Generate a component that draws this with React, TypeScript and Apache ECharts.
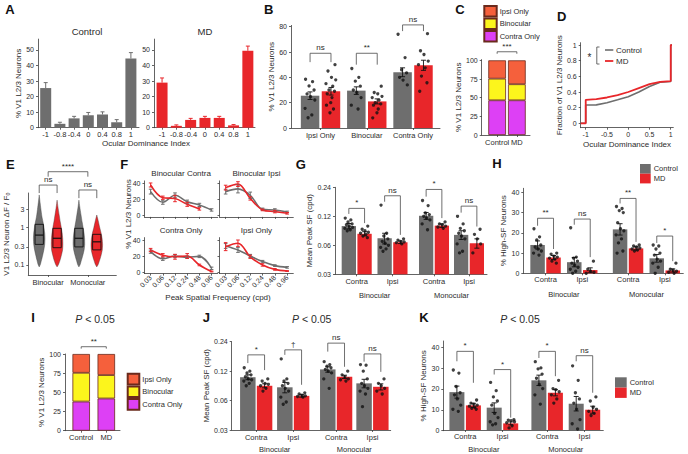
import React, { useEffect, useRef } from 'react';
import * as echarts from 'echarts';

const FONT = '"Liberation Sans", Arial, Helvetica, sans-serif';
const GRAY = '#6e6e6e';
const RED = '#e8262a';
const INK = '#2b2b2b';
const AXC = '#3c3c3c';
const IPSI_COL = '#f5603c';
const BIN_COL = '#fcf51c';
const CONTRA_COL = '#dd40f5';
const EDGE = '#6a2a1c';

// ---------------- DATA ----------------
// Panel A
const odCats = ['-1', '-0.8', '-0.4', '0', '0.4', '0.8', '1'];
const aTicks = [0, 10, 20, 30, 40, 50];
const aControlMean = [25.5, 2.5, 6, 8, 8.5, 3.5, 44.5];
const aControlSem = [3.5, 1, 1.3, 1.8, 1.7, 1.7, 3.8];
const aMdMean = [29, 1.2, 5, 6.3, 6.3, 1.5, 49.5];
const aMdSem = [3, 0.6, 1, 1, 1, 0.5, 3];

// Panel B
const bCats = ['Ipsi Only', 'Binocular', 'Contra Only'];
const bTicks = [0, 20, 40, 60, 80];
const bControlMean = [25.5, 29.5, 44];
const bControlSem = [3, 3, 3.5];
const bMdMean = [29, 21, 49.5];
const bMdSem = [3, 2, 4];
const bControlDots = [
  [38.5, 36.6, 33.2, 30, 26.9, 24.7, 22.1, 15.5, 10.3, 8.1],
  [47, 40, 37, 33, 30, 28, 24, 18, 15],
  [74, 55.6, 46, 43.5, 40, 37.8, 34],
];
const bMdDots = [
  [50, 45, 40, 38, 35, 33, 30, 29, 27, 24, 20, 18, 15, 12],
  [33, 28, 27, 25, 24, 22, 20, 19, 18, 15, 12, 8],
  [74.5, 61, 58, 52.8, 50, 47.5, 41, 35.7, 29],
];
const bBrackets = [[59, 52, 52], [59, 50, 50], [81.4, 76.5, 76.5]];
const bLabels = ['ns', '**', 'ns'];

// Panels C and I
const compCats = ['Control', 'MD'];
const pctTicks = [0, 25, 50, 75, 100];
const cContra = [46.5, 46.5];
const cBin = [29, 21.5];
const cIpsi = [24.5, 32];
const cBracket = [111.5, 108.8, 108.8];
const iContra = [38, 42];
const iBin = [37.5, 30.5];
const iIpsi = [24.5, 27.5];
const iBracket = [109.5, 107, 107];

// Panel D (cumulative distributions)
const dXTicks = [-1, -0.5, 0, 0.5, 1];
const dYTicks = [0, 0.2, 0.4, 0.6, 0.8, 1];
const dControl = [[-1.118, 0], [-1, 0], [-1, 0.234], [-0.75, 0.236], [-0.5, 0.263], [-0.25, 0.3], [0, 0.34], [0.25, 0.4], [0.5, 0.47], [0.75, 0.525], [1, 0.535], [1, 1], [1.03, 1]];
const dMd = [[-1.118, 0], [-1, 0], [-1, 0.3], [-0.75, 0.31], [-0.5, 0.33], [-0.25, 0.36], [0, 0.4], [0.25, 0.45], [0.5, 0.5], [0.75, 0.53], [1, 0.54], [1, 1], [1.03, 1]];

// Panel E (violins, dF/F0): [value, relative density]
const eCats = ['Binocular', 'Monocular'];
const eTicks = [0.1, 0.3, 1, 3];
const eBinCtrlProf = [[7.3, 0], [5, 0.12], [3, 0.3], [2, 0.45], [1.4, 0.65], [1, 0.82], [0.7, 0.95], [0.5, 1], [0.35, 0.95], [0.25, 0.8], [0.18, 0.6], [0.13, 0.38], [0.1, 0.18], [0.088, 0]];
const eBinMdProf = [[5.3, 0], [3.5, 0.15], [2.2, 0.35], [1.4, 0.55], [1, 0.72], [0.7, 0.88], [0.5, 0.97], [0.35, 1], [0.25, 0.95], [0.18, 0.75], [0.13, 0.5], [0.1, 0.22], [0.088, 0]];
const eMonoCtrlProf = [[5.3, 0], [3.5, 0.15], [2.2, 0.35], [1.4, 0.55], [1, 0.72], [0.7, 0.88], [0.5, 0.98], [0.35, 1], [0.25, 0.9], [0.18, 0.68], [0.13, 0.42], [0.1, 0.2], [0.088, 0]];
const eMonoMdProf = [[2.13, 0], [1.5, 0.25], [1, 0.5], [0.7, 0.75], [0.5, 0.92], [0.35, 1], [0.25, 0.95], [0.18, 0.75], [0.13, 0.48], [0.1, 0.22], [0.088, 0]];
const eBoxes = [[0.35, 0.62, 1.2], [0.286, 0.51, 0.94], [0.3, 0.51, 0.94], [0.25, 0.41, 0.65]];
const eBrackets = [[13.4, 8.2, 8.2], [9.9, 6.0, 6.0], [30.4, 22.4, 22.4]];
const eLabels = ['ns', 'ns', '****'];

// Panel F (tuning curves)
const fCats = ['0.03', '0.06', '0.12', '0.24', '0.48', '0.96'];
const fTicks = [0, 20, 40];
const fBinContraCtrl = [29.6, 16.3, 25, 17, 13, 6.7];
const fBinContraCtrlSem = [3, 2.5, 3, 2, 2, 1.5];
const fBinContraMd = [37.9, 22, 21, 13.7, 8, null];
const fBinContraMdSem = [2.5, 2, 4, 2.5, 1.5, null];
const fBinIpsiCtrl = [29.6, 33, 25, 7.5, 6.7, 4.2];
const fBinIpsiCtrlSem = [3, 5, 4, 1.5, 1.5, 1];
const fBinIpsiMd = [34.6, 39, 21, 6.7, 4.6, 2.5];
const fBinIpsiMdSem = [3, 3, 2, 1, 1.5, 1];
const fContraCtrl = [25.4, 16.5, 20, 18.5, 19.5, 4.6];
const fContraCtrlSem = [2, 2, 2, 1.5, 1.5, 1.5];
const fContraMd = [27.5, 21, 19, 20, 8.8, 0.6];
const fContraMdSem = [2, 2, 3, 3, 1, 0.5];
const fIpsiCtrl = [32.5, 27.5, 20, 13, 8, 5.8];
const fIpsiCtrlSem = [3, 3, 2, 1.5, 1, 1];
const fIpsiMd = [31.7, 36, 19, 8.8, 3.3, 1.2];
const fIpsiMdSem = [5, 4, 2, 1.5, 1, 0.5];

// Panels G, H, J, K: order = [Binocular Contra, Binocular Ipsi, Monocular Contra, Monocular Ipsi]
const sfGroups = ['Binocular', 'Monocular'];
const sfCats = ['Contra', 'Ipsi'];
const sfTicks = [0.03, 0.06, 0.12, 0.24];
const hsfTicks = [0, 10, 20, 30, 40];

const gCtrlMean = [0.095, 0.071, 0.1215, 0.077];
const gCtrlSem = [0.006, 0.009, 0.01, 0.008];
const gMdMean = [0.079, 0.0645, 0.096, 0.063];
const gMdSem = [0.004, 0.002, 0.004, 0.007];
const gCtrlDots = [
  [0.115, 0.11, 0.105, 0.1, 0.098, 0.095, 0.092, 0.09, 0.087, 0.085],
  [0.157, 0.08, 0.075, 0.07, 0.066, 0.063, 0.06, 0.057, 0.055, 0.052],
  [0.175, 0.155, 0.13, 0.125, 0.12, 0.115, 0.11, 0.1, 0.087],
  [0.12, 0.1, 0.09, 0.085, 0.08, 0.075, 0.07, 0.062, 0.052, 0.05],
];
const gMdDots = [
  [0.095, 0.088, 0.085, 0.082, 0.08, 0.078, 0.075, 0.072],
  [0.07, 0.068, 0.066, 0.065, 0.064, 0.062],
  [0.105, 0.1, 0.098, 0.095, 0.093, 0.09],
  [0.088, 0.078, 0.07, 0.062, 0.05],
];
const gBrackets = [[0.145, 0.127, 0.102], [0.196, 0.17, 0.077], [0.228, 0.192, 0.115], [0.153, 0.131, 0.094]];
const gLabels = ['*', 'ns', '*', 'ns'];

const hCtrlMean = [14, 5.5, 21.7, 7.4];
const hCtrlSem = [2, 2.3, 2.8, 1.9];
const hMdMean = [7.8, 1.6, 12.3, 1.4];
const hMdSem = [1, 1.1, 0.8, 0.8];
const hCtrlDots = [
  [22, 18, 16.5, 14, 13, 12, 11, 10, 9],
  [22.5, 8, 7.5, 6, 5, 4, 3, 2, 1, 0],
  [33, 32, 31, 30, 25, 22, 21, 19, 17, 15, 11, 10],
  [14, 13.5, 12, 10, 9, 7, 6, 5, 3, 0],
];
const hMdDots = [
  [10, 9.5, 8.5, 8, 7.5, 7, 6, 5],
  [6, 2, 1, 0.5, 0],
  [14, 13.5, 13, 12.5, 12, 11.5, 11],
  [5, 2, 1.5, 1, 0.5, 0],
];
const hBrackets = [[27.2, 23.5, 12], [26.8, 24, 8], [37, 34.5, 15.5], [18.4, 15, 6]];
const hLabels = ['**', 'ns', '**', '*'];

const jCtrlMean = [0.104, 0.082, 0.125, 0.09];
const jCtrlSem = [0.006, 0.01, 0.008, 0.009];
const jMdMean = [0.085, 0.067, 0.105, 0.083];
const jMdSem = [0.004, 0.002, 0.004, 0.006];
const jCtrlDots = [
  [0.13, 0.12, 0.115, 0.11, 0.105, 0.1, 0.098, 0.095, 0.09, 0.085],
  [0.16, 0.1, 0.095, 0.09, 0.085, 0.08, 0.075, 0.065, 0.058, 0.055],
  [0.15, 0.14, 0.135, 0.13, 0.125, 0.12, 0.115, 0.1, 0.08],
  [0.14, 0.138, 0.12, 0.1, 0.09, 0.085, 0.08, 0.075, 0.07, 0.052],
];
const jMdDots = [
  [0.1, 0.095, 0.09, 0.088, 0.085, 0.08, 0.075],
  [0.072, 0.07, 0.068, 0.067, 0.066, 0.065],
  [0.12, 0.11, 0.105, 0.1, 0.098, 0.095],
  [0.1, 0.09, 0.085, 0.08, 0.075, 0.07],
];
const jBrackets = [[0.176, 0.145, 0.123], [0.198, 0.176, 0.087], [0.232, 0.19, 0.133], [0.18, 0.15, 0.118]];
const jLabels = ['*', '†', 'ns', 'ns'];

const kCtrlMean = [18.3, 10.8, 24, 12.7];
const kCtrlSem = [2.9, 2.3, 2.5, 3.5];
const kMdMean = [11.9, 3.2, 18, 9.8];
const kMdSem = [1, 0.7, 1.5, 1.7];
const kCtrlDots = [
  [29, 27.5, 21, 18, 17, 15, 12, 10, 9],
  [23, 19, 16, 14, 12, 8, 6, 4, 3, 2.5],
  [33, 30, 29.5, 27, 25, 22, 20, 17, 12.5],
  [31, 24, 18, 15, 13, 10, 5, 3, 0.5],
];
const kMdDots = [
  [14.5, 13, 12.5, 12, 11.5, 11, 10.5, 10],
  [5, 4.8, 4.5, 4, 3.5, 2, 1],
  [24, 20, 19.5, 18.5, 17, 15, 13],
  [16, 14, 11, 10, 9, 8, 7],
];
const kBrackets = [[38, 33.2, 22.8], [29.2, 26.8, 6], [38, 34.8, 26], [35.9, 33.2, 18]];
const kLabels = ['*', '*', '*', 'ns'];

// horizontal jitter pattern for dots (layout only, fraction of jitter width)
const JIT = [-0.9, 0.5, -0.2, 0.8, -0.6, 0.1, 0.95, -1, 0.35, -0.4, 0.7, -0.75, 0.2, -0.05];

// ---------------- HELPERS ----------------
const LINE = { color: AXC, width: 0.8 };
const lin = (v: number) => v;
const log2t = (v: number) => Math.log2(v / 0.03);
const fmtSF = (v: number) => (0.03 * Math.pow(2, v)).toFixed(2);

function yVis(gridIndex: number, min: number, max: number, ticks: number[], fmt: any, name: string, nameGap: number, showLabels = true) {
  return {
    type: 'value', gridIndex, min, max,
    splitLine: { show: false },
    axisLine: { show: true, onZero: false, lineStyle: LINE },
    axisTick: { show: true, length: 2, customValues: ticks, lineStyle: LINE },
    axisLabel: { show: showLabels, customValues: ticks, formatter: fmt, fontSize: 7, color: INK, margin: 4, fontFamily: FONT },
    name, nameLocation: 'middle', nameGap,
    nameTextStyle: { fontSize: 8, color: INK, fontFamily: FONT },
  };
}
function yHid(gridIndex: number, min: number, max: number) {
  return { type: 'value', gridIndex, min, max, show: false, splitLine: { show: false } };
}
function xLineOnly(gridIndex: number) {
  return {
    type: 'value', gridIndex, min: 0, max: 1,
    axisLine: { show: true, onZero: false, lineStyle: LINE },
    axisTick: { show: false }, axisLabel: { show: false }, splitLine: { show: false },
  };
}
function xValHid(gridIndex: number, max: number) {
  return { type: 'value', gridIndex, min: 0, max, show: false, splitLine: { show: false } };
}
function xCat(gridIndex: number, cats: string[], margin: number, name?: string, nameGap?: number, showLine = false) {
  return {
    type: 'category', gridIndex, data: cats, boundaryGap: true,
    axisLine: { show: showLine, onZero: false, lineStyle: LINE },
    axisTick: { show: true, alignWithLabel: true, length: 2, lineStyle: LINE },
    axisLabel: { interval: 0, fontSize: 7.5, color: INK, margin, fontFamily: FONT },
    splitLine: { show: false },
    name: name || '', nameLocation: 'middle', nameGap: nameGap || 15,
    nameTextStyle: { fontSize: 7.5, color: INK, fontFamily: FONT },
  };
}
function errSeries(xi: number, yi: number, data: number[][], color: string, both = true, cap = 2.5, lw = 0.9) {
  return {
    type: 'custom', xAxisIndex: xi, yAxisIndex: yi, data, clip: false, silent: true, z: 5,
    encode: { x: 0, y: [1, 2] },
    renderItem: (params: any, api: any) => {
      const x = api.value(0), lo = api.value(1), hi = api.value(2);
      const a = api.coord([x, lo]);
      const b = api.coord([x, hi]);
      const st = { stroke: color, lineWidth: lw };
      const ch: any[] = [
        { type: 'line', shape: { x1: a[0], y1: a[1], x2: b[0], y2: b[1] }, style: st },
        { type: 'line', shape: { x1: b[0] - cap, y1: b[1], x2: b[0] + cap, y2: b[1] }, style: st },
      ];
      if (both) ch.push({ type: 'line', shape: { x1: a[0] - cap, y1: a[1], x2: a[0] + cap, y2: a[1] }, style: st });
      return { type: 'group', children: ch };
    },
  };
}
function dotSeries(xi: number, yi: number, data: number[][]) {
  return { type: 'scatter', xAxisIndex: xi, yAxisIndex: yi, data, symbolSize: 3.3, itemStyle: { color: '#111' }, silent: true, z: 4, clip: false };
}
function bracketSeries(xi: number, yi: number, data: number[][], labels: string[], fs = 8) {
  return {
    type: 'custom', xAxisIndex: xi, yAxisIndex: yi, data, clip: false, silent: true, z: 6,
    encode: { x: [0, 1], y: [2, 3, 4] },
    renderItem: (params: any, api: any) => {
      const x1 = api.value(0), x2 = api.value(1), yt = api.value(2), yl = api.value(3), yr = api.value(4);
      const p1 = api.coord([x1, yl]), p2 = api.coord([x1, yt]), p3 = api.coord([x2, yt]), p4 = api.coord([x2, yr]);
      return {
        type: 'group', children: [
          { type: 'polyline', shape: { points: [p1, p2, p3, p4] }, style: { stroke: '#4a4a4a', lineWidth: 0.8, fill: null } },
          { type: 'text', x: (p2[0] + p3[0]) / 2, y: p2[1] - 1.5, style: { text: labels[params.dataIndex], fontSize: fs, fontFamily: FONT, fill: INK, align: 'center', verticalAlign: 'bottom' } },
        ],
      };
    },
  };
}

function buildOption() {
  const grid: any[] = [], xAxis: any[] = [], yAxis: any[] = [], series: any[] = [], els: any[] = [], legend: any[] = [];
  const addGrid = (left: number, top: number, width: number, height: number) => grid.push({ left, top, width, height, containLabel: false }) - 1;
  const addX = (a: any) => xAxis.push(a) - 1;
  const addY = (a: any) => yAxis.push(a) - 1;
  const txt = (x: number, y: number, t: string, size: number, extra: any = {}, rot = 0) =>
    els.push({ type: 'text', x, y, rotation: rot, silent: true, style: { text: t, fontSize: size, fontFamily: FONT, fill: INK, align: 'center', verticalAlign: 'middle', ...extra } });

  // ---------- Panel A ----------
  const aPanels = [
    { axisX: 38, barLeft: 38.6, barWidth: 99.4, mean: aControlMean, sem: aControlSem, color: GRAY, name: 'Control', yName: '% V1 L2/3 Neurons' },
    { axisX: 154, barLeft: 154.9, barWidth: 100.1, mean: aMdMean, sem: aMdSem, color: RED, name: 'MD', yName: '' },
  ];
  aPanels.forEach((p) => {
    const top = 39.1, h = 88.6;
    const base = addGrid(p.axisX, top, 101, h);
    addX(xLineOnly(base));
    addY(yVis(base, 0, 57, aTicks, (v: number) => String(v), p.yName, 14.5));
    const g = addGrid(p.barLeft, top, p.barWidth, h);
    const xc = addX(xCat(g, odCats, 3));
    const xv = addX(xValHid(g, odCats.length));
    const y = addY(yHid(g, 0, 57));
    series.push({ type: 'bar', name: p.name, xAxisIndex: xc, yAxisIndex: y, data: p.mean, barWidth: 11, itemStyle: { color: p.color } });
    series.push(errSeries(xv, y, p.mean.map((m, i) => [i + 0.5, m, m + p.sem[i]]), p.color, false, 2, 1));
  });
  txt(87, 31, 'Control', 9.5);
  txt(205, 31, 'MD', 9.5);
  txt(146, 143, 'Ocular Dominance Index', 8);

  // ---------- grouped bar panels ----------
  const groupedPanel = (p: any) => {
    const h = p.bottom - p.top;
    const base = addGrid(p.axisX, p.top, p.right - p.axisX, h);
    addX(xLineOnly(base));
    addY(yVis(base, p.ymin, p.ymax, p.ticks, p.fmt, p.yName, p.yNameGap));
    const n = p.cats.length;
    p.groups.forEach((g: any, gi: number) => {
      const gr = addGrid(g.left, p.top, g.width, h);
      const xc = addX(xCat(gr, p.cats, p.labelMargin, g.name, p.groupGap));
      const xv = addX(xValHid(gr, n));
      const y = addY(yHid(gr, p.ymin, p.ymax));
      const catW = g.width / n;
      const off = (p.barW * (1 + p.gapPct / 100)) / 2 / catW;
      const amp = p.jitPx / catW;
      const ks = p.cats.map((_: any, c: number) => gi * n + c);
      series.push({ type: 'bar', name: 'Control', xAxisIndex: xc, yAxisIndex: y, barWidth: p.barW, barGap: p.gapPct + '%', data: ks.map((k: number) => p.tf(p.ctrlMean[k])), itemStyle: { color: GRAY } });
      series.push({ type: 'bar', name: 'MD', xAxisIndex: xc, yAxisIndex: y, barWidth: p.barW, barGap: p.gapPct + '%', data: ks.map((k: number) => p.tf(p.mdMean[k])), itemStyle: { color: RED } });
      const dots: number[][] = [];
      ks.forEach((k: number, c: number) => {
        p.ctrlDots[k].forEach((v: number, i: number) => dots.push([c + 0.5 - off + JIT[i % JIT.length] * amp, p.tf(v)]));
        p.mdDots[k].forEach((v: number, i: number) => dots.push([c + 0.5 + off + JIT[(i + 3) % JIT.length] * amp, p.tf(v)]));
      });
      series.push(dotSeries(xv, y, dots));
      const err: number[][] = [];
      ks.forEach((k: number, c: number) => {
        err.push([c + 0.5 - off, p.tf(p.ctrlMean[k] - p.ctrlSem[k]), p.tf(p.ctrlMean[k] + p.ctrlSem[k])]);
        err.push([c + 0.5 + off, p.tf(p.mdMean[k] - p.mdSem[k]), p.tf(p.mdMean[k] + p.mdSem[k])]);
      });
      series.push(errSeries(xv, y, err, '#111', true, 2.5, 0.9));
      const br = ks.map((k: number, c: number) => [c + 0.5 - off, c + 0.5 + off, p.tf(p.brackets[k][0]), p.tf(p.brackets[k][1]), p.tf(p.brackets[k][2])]);
      series.push(bracketSeries(xv, y, br, ks.map((k: number) => p.labels[k])));
    });
  };

  // Panel B
  groupedPanel({
    axisX: 291, right: 440, top: 25.4, bottom: 128, ymin: 0, ymax: 81, ticks: bTicks, fmt: (v: number) => String(v),
    yName: '% V1 L2/3 Neurons', yNameGap: 9, groups: [{ left: 297.4, width: 138.75, name: '' }], cats: bCats,
    labelMargin: 3.5, groupGap: 15, ctrlMean: bControlMean, ctrlSem: bControlSem, mdMean: bMdMean, mdSem: bMdSem,
    ctrlDots: bControlDots, mdDots: bMdDots, brackets: bBrackets, labels: bLabels, tf: lin, barW: 18.5, gapPct: 13, jitPx: 5,
  });
  // Panel G
  groupedPanel({
    axisX: 335, right: 487, top: 187.3, bottom: 274.3, ymin: 0, ymax: 3, ticks: sfTicks.map(log2t), fmt: fmtSF,
    yName: 'Mean Peak SF (cpd)', yNameGap: 19.5, groups: [{ left: 338.8, width: 71.6, name: sfGroups[0] }, { left: 416.5, width: 70, name: sfGroups[1] }],
    cats: sfCats, labelMargin: 3, groupGap: 17, ctrlMean: gCtrlMean, ctrlSem: gCtrlSem, mdMean: gMdMean, mdSem: gMdSem,
    ctrlDots: gCtrlDots, mdDots: gMdDots, brackets: gBrackets, labels: gLabels, tf: log2t, barW: 14.3, gapPct: 10, jitPx: 4,
  });
  // Panel H
  groupedPanel({
    axisX: 523.3, right: 683.3, top: 188.3, bottom: 273.3, ymin: 0, ymax: 42, ticks: hsfTicks, fmt: (v: number) => String(v),
    yName: '% High-SF Neurons', yNameGap: 13.5, groups: [{ left: 527.2, width: 73.4, name: sfGroups[0] }, { left: 609.7, width: 73.4, name: sfGroups[1] }],
    cats: sfCats, labelMargin: 2, groupGap: 17, ctrlMean: hCtrlMean, ctrlSem: hCtrlSem, mdMean: hMdMean, mdSem: hMdSem,
    ctrlDots: hCtrlDots, mdDots: hMdDots, brackets: hBrackets, labels: hLabels, tf: lin, barW: 14.5, gapPct: 10, jitPx: 4,
  });
  // Panel J
  groupedPanel({
    axisX: 231.7, right: 390.7, top: 341.7, bottom: 430, ymin: 0, ymax: 3, ticks: sfTicks.map(log2t), fmt: fmtSF,
    yName: 'Mean Peak SF (cpd)', yNameGap: 15.5, groups: [{ left: 237.7, width: 74, name: sfGroups[0] }, { left: 318, width: 72.6, name: sfGroups[1] }],
    cats: sfCats, labelMargin: 3, groupGap: 15, ctrlMean: jCtrlMean, ctrlSem: jCtrlSem, mdMean: jMdMean, mdSem: jMdSem,
    ctrlDots: jCtrlDots, mdDots: jMdDots, brackets: jBrackets, labels: jLabels, tf: log2t, barW: 15.5, gapPct: 8, jitPx: 4,
  });
  // Panel K
  groupedPanel({
    axisX: 443.3, right: 603.3, top: 341, bottom: 430.7, ymin: 0, ymax: 43, ticks: hsfTicks, fmt: (v: number) => String(v),
    yName: '% High-SF Neurons', yNameGap: 11.5, groups: [{ left: 446.5, width: 74.6, name: sfGroups[0] }, { left: 528.5, width: 74.6, name: sfGroups[1] }],
    cats: sfCats, labelMargin: 2.5, groupGap: 15, ctrlMean: kCtrlMean, ctrlSem: kCtrlSem, mdMean: kMdMean, mdSem: kMdSem,
    ctrlDots: kCtrlDots, mdDots: kMdDots, brackets: kBrackets, labels: kLabels, tf: lin, barW: 15, gapPct: 10, jitPx: 4,
  });

  // ---------- stacked panels C and I ----------
  const stackPanel = (p: any) => {
    const h = p.bottom - p.top;
    const base = addGrid(p.axisX, p.top, p.right - p.axisX, h);
    addX(xLineOnly(base));
    addY(yVis(base, 0, p.ymax, pctTicks, (v: number) => String(v), '% V1 L2/3 Neurons', p.yNameGap));
    const g = addGrid(p.barLeft, p.top, p.barGridW, h);
    const xc = addX(xCat(g, compCats, p.labelMargin));
    const xv = addX(xValHid(g, 2));
    const y = addY(yHid(g, 0, p.ymax));
    const mk = (name: string, data: number[], color: string) => ({
      type: 'bar', name, stack: p.stack, xAxisIndex: xc, yAxisIndex: y, data, barWidth: p.barW,
      itemStyle: { color, borderColor: EDGE, borderWidth: 0.8 },
    });
    series.push(mk('Contra Only', p.contra, CONTRA_COL));
    series.push(mk('Binocular', p.bin, BIN_COL));
    series.push(mk('Ipsi Only', p.ipsi, IPSI_COL));
    series.push(bracketSeries(xv, y, [[0.5, 1.5, p.bracket[0], p.bracket[1], p.bracket[2]]], [p.label]));
  };
  stackPanel({ axisX: 481.7, right: 530, top: 59.6, bottom: 135, ymax: 101, yNameGap: 15, barLeft: 487.3, barGridW: 39.4, barW: 17.7, labelMargin: 3.5, stack: 'C', contra: cContra, bin: cBin, ipsi: cIpsi, bracket: cBracket, label: '***' });
  stackPanel({ axisX: 65, right: 120, top: 354, bottom: 430.7, ymax: 100, yNameGap: 16.8, barLeft: 68.65, barGridW: 50.2, barW: 17.5, labelMargin: 2.5, stack: 'I', contra: iContra, bin: iBin, ipsi: iIpsi, bracket: iBracket, label: '**' });

  legend.push({
    orient: 'vertical', left: 483.3, top: 5, itemWidth: 12.4, itemHeight: 10.5, itemGap: 0, padding: 0, selectedMode: false,
    icon: 'rect', data: ['Ipsi Only', 'Binocular', 'Contra Only'], textStyle: { fontSize: 7.5, color: INK, fontFamily: FONT, padding: [0, 0, 0, -2] },
  });
  legend.push({
    orient: 'vertical', left: 126.7, top: 372.7, itemWidth: 11.6, itemHeight: 10.7, itemGap: 0, padding: 0, selectedMode: false,
    icon: 'rect', data: ['Ipsi Only', 'Binocular', 'Contra Only'], textStyle: { fontSize: 7.5, color: INK, fontFamily: FONT, padding: [0, 0, 0, -2] },
  });
  legend.push({
    orient: 'vertical', left: 640, top: 164, itemWidth: 10.7, itemHeight: 9.7, itemGap: 0, padding: 0, selectedMode: false,
    icon: 'rect', data: ['Control', 'MD'], textStyle: { fontSize: 7.5, color: INK, fontFamily: FONT, padding: [0, 0, 0, -2] },
  });
  legend.push({
    orient: 'vertical', left: 615, top: 377.3, itemWidth: 11.7, itemHeight: 10.3, itemGap: 0, padding: 0, selectedMode: false,
    icon: 'rect', data: ['Control', 'MD'], textStyle: { fontSize: 7.5, color: INK, fontFamily: FONT, padding: [0, 0, 0, -2] },
  });

  // ---------- Panel D ----------
  {
    const dG = addGrid(580.7, 42.7, 92.6, 85);
    const xi = addX({
      type: 'value', gridIndex: dG, min: -1.118, max: 1.06, splitLine: { show: false },
      axisLine: { show: true, onZero: false, lineStyle: LINE },
      axisTick: { show: true, length: 2, customValues: dXTicks, lineStyle: LINE },
      axisLabel: { customValues: dXTicks, formatter: (v: number) => String(v), fontSize: 7, color: INK, margin: 3, fontFamily: FONT },
      name: 'Ocular Dominance Index', nameLocation: 'middle', nameGap: 12.6, nameTextStyle: { fontSize: 8, color: INK, fontFamily: FONT },
    });
    const yi = addY(yVis(dG, -0.056, 1.03, dYTicks, (v: number) => String(Math.round(v * 10) / 10), 'Fraction of V1 L2/3 Neurons', 13.7));
    series.push({ type: 'line', name: 'Control', xAxisIndex: xi, yAxisIndex: yi, data: dControl, symbol: 'none', lineStyle: { color: GRAY, width: 1.6 }, itemStyle: { color: GRAY }, z: 3 });
    series.push({ type: 'line', name: 'MD', xAxisIndex: xi, yAxisIndex: yi, data: dMd, symbol: 'none', lineStyle: { color: RED, width: 1.8 }, itemStyle: { color: RED }, z: 4 });
    els.push({ type: 'line', silent: true, shape: { x1: 605, y1: 50, x2: 613.3, y2: 50 }, style: { stroke: GRAY, lineWidth: 1.6 } });
    els.push({ type: 'line', silent: true, shape: { x1: 605, y1: 61, x2: 613.3, y2: 61 }, style: { stroke: RED, lineWidth: 1.8 } });
    txt(616, 50, 'Control', 8, { align: 'left' });
    txt(616, 61, 'MD', 8, { align: 'left' });
    els.push({ type: 'polyline', silent: true, shape: { points: [[599.5, 47], [596.8, 47], [596.8, 64], [599.5, 64]] }, style: { stroke: '#444', lineWidth: 0.8, fill: null } });
    txt(589.5, 57, '*', 10);
  }

  // ---------- Panel E ----------
  {
    const top = 193, h = 82;
    const base = addGrid(28.3, top, 88, h);
    addX(xLineOnly(base));
    const yi = addY(yVis(base, -1.272, 0.915, eTicks.map(Math.log10), (v: number) => {
      const x = Math.pow(10, v);
      return x >= 1 ? String(Math.round(x)) : String(Math.round(x * 10) / 10);
    }, 'V1 L2/3 Neuron ΔF / F₀', 16.5));
    const eG = addGrid(28.3, top, 79.4, h);
    addX(xCat(eG, eCats, 3));
    const xv = addX(xValHid(eG, 2));
    const yv = addY(yHid(eG, -1.272, 0.915));
    const VW = 0.146, BW = 0.105, OFF = 0.225;
    const violins = [
      { cat: 0, side: -1, prof: eBinCtrlProf, color: GRAY },
      { cat: 0, side: 1, prof: eBinMdProf, color: RED },
      { cat: 1, side: -1, prof: eMonoCtrlProf, color: GRAY },
      { cat: 1, side: 1, prof: eMonoMdProf, color: RED },
    ];
    series.push({
      type: 'custom', name: 'violin', xAxisIndex: xv, yAxisIndex: yv, clip: false, silent: true, z: 3,
      data: violins.map((v, i) => [v.cat + 0.5 + v.side * OFF, Math.log10(eBoxes[i][0]), Math.log10(eBoxes[i][1]), Math.log10(eBoxes[i][2])]),
      encode: { x: 0, y: [1, 2, 3] },
      renderItem: (params: any, api: any) => {
        const v = violins[params.dataIndex];
        const cx = api.value(0);
        const leftPts = v.prof.map(([val, w]) => api.coord([cx - w * VW, Math.log10(val)]));
        const rightPts = v.prof.slice().reverse().map(([val, w]) => api.coord([cx + w * VW, Math.log10(val)]));
        const q1 = api.coord([cx - BW, api.value(1)]);
        const med = api.coord([cx - BW, api.value(2)]);
        const q3 = api.coord([cx + BW, api.value(3)]);
        return {
          type: 'group', children: [
            { type: 'polygon', shape: { points: leftPts.concat(rightPts), smooth: 0.15 }, style: { fill: v.color, stroke: '#3a3a3a', lineWidth: 0.4 } },
            { type: 'rect', shape: { x: q1[0], y: q3[1], width: q3[0] - q1[0], height: q1[1] - q3[1] }, style: { fill: v.color, stroke: '#111', lineWidth: 0.9 } },
            { type: 'line', shape: { x1: q1[0], y1: med[1], x2: q3[0], y2: med[1] }, style: { stroke: '#111', lineWidth: 1.2 } },
          ],
        };
      },
    });
    const eb = [
      [0.5 - OFF, 0.5 + OFF],
      [1.5 - OFF, 1.5 + OFF],
      [0.5, 1.5],
    ].map((xs, i) => [xs[0], xs[1], Math.log10(eBrackets[i][0]), Math.log10(eBrackets[i][1]), Math.log10(eBrackets[i][2])]);
    series.push(bracketSeries(xv, yv, eb, eLabels));
  }

  // ---------- Panel F ----------
  {
    const fPanels = [
      { left: 144.5, top: 180.9, width: 73.2, title: 'Binocular Contra', ctrl: fBinContraCtrl, ctrlSem: fBinContraCtrlSem, md: fBinContraMd, mdSem: fBinContraMdSem, row: 0, col: 0 },
      { left: 219.5, top: 180.9, width: 73.8, title: 'Binocular Ipsi', ctrl: fBinIpsiCtrl, ctrlSem: fBinIpsiCtrlSem, md: fBinIpsiMd, mdSem: fBinIpsiMdSem, row: 0, col: 1 },
      { left: 144.5, top: 237.6, width: 73.2, title: 'Contra Only', ctrl: fContraCtrl, ctrlSem: fContraCtrlSem, md: fContraMd, mdSem: fContraMdSem, row: 1, col: 0 },
      { left: 219.5, top: 237.6, width: 73.8, title: 'Ipsi Only', ctrl: fIpsiCtrl, ctrlSem: fIpsiCtrlSem, md: fIpsiMd, mdSem: fIpsiMdSem, row: 1, col: 1 },
    ];
    fPanels.forEach((p) => {
      const g = addGrid(p.left, p.top, p.width, 36);
      const xi = addX({
        type: 'category', gridIndex: g, data: fCats, boundaryGap: true,
        axisLine: { show: true, onZero: false, lineStyle: LINE },
        axisTick: { show: true, alignWithLabel: true, length: 2, lineStyle: LINE },
        axisLabel: { show: p.row === 1, interval: 0, rotate: 45, fontSize: 7, color: INK, margin: 3, fontFamily: FONT },
      });
      const yi = addY(yVis(g, -2, 43, fTicks, (v: number) => String(v), '', 0, p.col === 0));
      series.push({ type: 'line', name: 'Control', xAxisIndex: xi, yAxisIndex: yi, data: p.ctrl, symbol: 'none', smooth: 0.35, lineStyle: { color: GRAY, width: 1.6 }, itemStyle: { color: GRAY }, z: 3 });
      series.push({ type: 'line', name: 'MD', xAxisIndex: xi, yAxisIndex: yi, data: p.md, symbol: 'none', smooth: 0.35, connectNulls: false, lineStyle: { color: RED, width: 1.6 }, itemStyle: { color: RED }, z: 4 });
      const ce: number[][] = [], me: number[][] = [];
      p.ctrl.forEach((v, i) => { ce.push([i, v - p.ctrlSem[i], v + p.ctrlSem[i]]); });
      p.md.forEach((v, i) => { if (v != null && p.mdSem[i] != null) me.push([i, v - (p.mdSem[i] as number), v + (p.mdSem[i] as number)]); });
      series.push(errSeries(xi, yi, ce, GRAY, true, 1.8, 1));
      series.push(errSeries(xi, yi, me, RED, true, 1.8, 1));
      txt(p.left + p.width / 2, p.top - 7, p.title, 8);
    });
    txt(128.5, 214, '% V1 L2/3 Neurons', 8, {}, Math.PI / 2);
    txt(218, 297, 'Peak Spatial Frequency (cpd)', 8);
  }

  // ---------- titles / letters ----------
  const pt = (x: number, y: number) => txt(x, y, '{i|P} < 0.05', 10.5, { rich: { i: { fontStyle: 'italic', fontSize: 10.5, fontFamily: FONT, fill: INK } } });
  pt(95, 319);
  pt(311.7, 319);
  pt(520, 319);
  const letters: [string, number, number][] = [
    ['A', 10, 9.5], ['B', 268.8, 9.2], ['C', 460, 9.5], ['D', 561.7, 16],
    ['E', 10.3, 164], ['F', 124.3, 164], ['G', 300.8, 164], ['H', 497, 163.5],
    ['I', 33, 317.5], ['J', 206.3, 317.5], ['K', 424, 317.5],
  ];
  letters.forEach(([t, x, y]) => txt(x, y, t, 13, { fontWeight: 'bold', fill: '#111' }));

  return {
    animation: false,
    backgroundColor: '#ffffff',
    textStyle: { fontFamily: FONT },
    grid, xAxis, yAxis, series, legend,
    graphic: { elements: els },
  };
}

export default function App() {
  const ref = useRef<HTMLDivElement>(null);
  useEffect(() => {
    if (!ref.current) return;
    const chart = echarts.init(ref.current, undefined, { renderer: 'svg', width: 688, height: 454 });
    chart.setOption(buildOption() as any);
    return () => chart.dispose();
  }, []);
  return <div ref={ref} style={{ position: 'fixed', left: 0, top: 0, width: 688, height: 454, background: '#fff' }} />;
}
